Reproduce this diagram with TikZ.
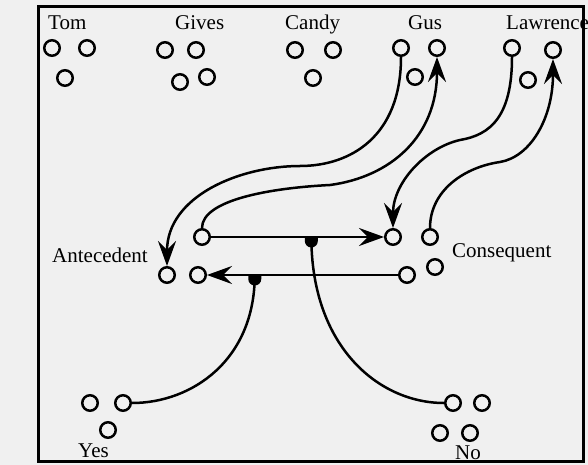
\documentclass[tikz,border=0pt]{standalone}
\usepackage{fontspec}
\setmainfont{Liberation Serif}
\usetikzlibrary{arrows.meta}
\tikzset{
  unit/.style={circle, draw, line width=2.5pt, minimum size=15.5pt, inner sep=0pt},
  word/.style={font=\fontsize{21}{24}\selectfont, inner sep=0pt, anchor=base west},
  link/.style={line width=2.5pt},
  arr/.style={link, -{Stealth[length=25pt,width=18pt,inset=9pt]}},
}
\begin{document}
\begin{tikzpicture}[x=1pt,y=-1pt]
  \useasboundingbox[fill=black!6] (0,0) rectangle (588,465);
  \draw[line width=3pt] (38,7) rectangle (583,461);

  \node[word] (tom) at (48,30) {Tom};
  \node[word] (gives) at (175,30) {Gives};
  \node[word] (candy) at (285,30) {Candy};
  \node[word] (gus) at (408,30) {Gus};
  \node[word] (lawrence) at (506,30) {Lawrence};
  \node[word] (antecedent) at (52,262) {Antecedent};
  \node[word] (consequent) at (452,257) {Consequent};
  \node[word] (yes) at (78,457) {Yes};
  \node[word] (no) at (455,459) {No};

  \node[unit] (tom1) at (52,48) {};
  \node[unit] (tom2) at (87,48) {};
  \node[unit] (tom3) at (65,78) {};

  \node[unit] (gives1) at (165,50) {};
  \node[unit] (gives2) at (196,50) {};
  \node[unit] (gives3) at (180,82) {};
  \node[unit] (gives4) at (207,77) {};

  \node[unit] (candy1) at (295,50) {};
  \node[unit] (candy2) at (333,50) {};
  \node[unit] (candy3) at (313,78) {};

  \node[unit] (gus1) at (401,48) {};
  \node[unit] (gus2) at (437,48) {};
  \node[unit] (gus3) at (415,77) {};

  \node[unit] (law1) at (512,48) {};
  \node[unit] (law2) at (553,50) {};
  \node[unit] (law3) at (528,80) {};

  \node[unit] (ante1) at (202,237) {};
  \node[unit] (ante2) at (167,275) {};
  \node[unit] (ante3) at (198,275) {};

  \node[unit] (cons1) at (393,237) {};
  \node[unit] (cons2) at (430,237) {};
  \node[unit] (cons3) at (407,275) {};
  \node[unit] (cons4) at (435,267) {};

  \node[unit] (yes1) at (90,403) {};
  \node[unit] (yes2) at (123,403) {};
  \node[unit] (yes3) at (108,430) {};

  \node[unit] (no1) at (453,403) {};
  \node[unit] (no2) at (482,403) {};
  \node[unit] (no3) at (440,433) {};
  \node[unit] (no4) at (470,433) {};

  \coordinate (bendA) at (300,166);
  \coordinate (bendB) at (330,185);
  \coordinate (bendC) at (460,140);
  \coordinate (bendD) at (500,162);

  \draw[arr] (ante1) -- (cons1) coordinate[pos=0.58] (bead1);
  \draw[arr] (cons3) -- (ante3) coordinate[pos=0.75] (bead2);

  \draw[arr] (gus1.south) .. controls +(0,80) and +(50,0) .. (bendA)
    .. controls +(-60,0) and +(0,-70) .. (ante2.north);
  \draw[arr] (ante1.north) .. controls +(0,-28) and +(-60,3) .. (bendB)
    .. controls +(60,-8) and +(0,80) .. (gus2.south);
  \draw[arr] (law1.south) .. controls +(0,60) and +(30,-5) .. (bendC)
    .. controls +(-35,8) and +(0,-45) .. (cons1.north);
  \draw[arr] (cons2.north) .. controls +(0,-38) and +(-35,5) .. (bendD)
    .. controls +(30,-5) and +(0,60) .. (law2.south);

  \draw[link] (bead1) .. controls +(0,110) and +(-65,0) .. (no1.west);
  \draw[link] (bead2) .. controls +(0,85) and +(60,0) .. (yes2.east);

  \fill (bead1) ++(-6.5,0) -- ++(13,0) -- ++(0,4) arc[start angle=0,end angle=180,radius=6.5] -- cycle;
  \fill (bead2) ++(-6.5,0) -- ++(13,0) -- ++(0,4) arc[start angle=0,end angle=180,radius=6.5] -- cycle;
\end{tikzpicture}
\end{document}
